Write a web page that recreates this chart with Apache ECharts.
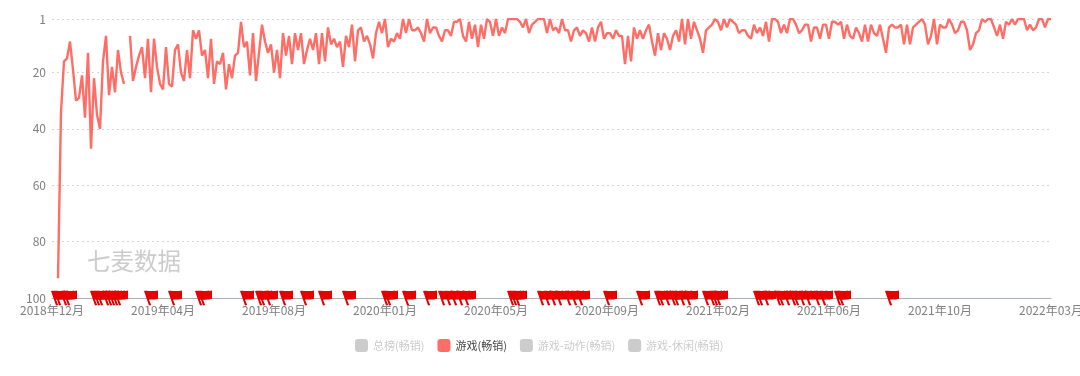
<!DOCTYPE html>
<html>
<head>
<meta charset="utf-8">
<style>
  html, body { margin: 0; padding: 0; background: #fff; }
  #main { width: 1080px; height: 376px; }
</style>
<script src="https://cdn.jsdelivr.net/npm/echarts@6/dist/echarts.min.js"></script>
</head>
<body>
<div id="main"></div>
<script>
var legendNames = ['总榜(畅销)', '游戏(畅销)', '游戏-动作(畅销)', '游戏-休闲(畅销)'];
var monthLabels = ['2018年12月', '2019年04月', '2019年08月', '2020年01月', '2020年05月', '2020年09月', '2021年02月', '2021年06月', '2021年10月', '2022年03月'];
var rankTicks = [1, 20, 40, 60, 80, 100];
var labelStep = 37;

// 游戏(畅销) rank
var gameRank = [
  null, null, 93, 34, 16, 15, 9, 19, 30, 29, 21, 36, 13, 47, 22, 35, 40, 16, 7, 28,
  18, 27, 12, 20, 24, null, 7, 23, 18, 14, 11, 22, 8, 27, 8, 18, 24, 26, 11, 24,
  25, 12, 10, 20, 23, 12, 22, 5, 8, 5, 14, 12, 22, 8, 24, 16, 17, 13, 26, 17,
  22, 14, 13, 2, 11, 9, 21, 6, 23, 13, 3, 9, 13, 10, 20, 12, 22, 6, 14, 7,
  17, 6, 12, 6, 17, 12, 8, 12, 6, 17, 6, 16, 4, 10, 8, 11, 9, 18, 7, 11,
  3, 16, 5, 4, 9, 7, 10, 15, 6, 2, 6, 1, 11, 8, 9, 6, 8, 1, 6, 1,
  5, 5, 4, 6, 9, 1, 6, 4, 4, 7, 9, 5, 5, 7, 2, 2, 1, 7, 9, 2,
  8, 3, 11, 3, 8, 1, 2, 7, 1, 7, 4, 6, 1, 1, 1, 1, 2, 4, 1, 6,
  3, 2, 1, 1, 1, 6, 1, 5, 4, 6, 1, 5, 5, 9, 5, 4, 7, 5, 6, 9,
  4, 9, 4, 2, 8, 6, 6, 8, 5, 7, 7, 17, 7, 16, 4, 8, 5, 8, 5, 3,
  9, 14, 6, 12, 6, 8, 12, 7, 5, 9, 1, 10, 1, 8, 2, 5, 8, 13, 5, 4,
  3, 1, 2, 5, 1, 4, 1, 2, 3, 6, 5, 5, 7, 8, 3, 6, 4, 7, 2, 9,
  1, 1, 2, 6, 3, 6, 1, 1, 3, 6, 5, 3, 3, 9, 4, 4, 8, 3, 3, 8,
  2, 2, 3, 2, 8, 3, 7, 8, 4, 6, 9, 3, 9, 3, 6, 7, 3, 8, 13, 4,
  3, 4, 4, 3, 10, 3, 10, 4, 3, 2, 1, 3, 10, 7, 1, 10, 3, 4, 4, 1,
  3, 6, 5, 2, 2, 5, 12, 10, 6, 5, 1, 2, 1, 1, 4, 7, 3, 8, 2, 3,
  1, 3, 1, 1, 1, 5, 3, 5, 4, 1, 1, 4, 1, 1
];
var flagPoints = [
  2, 3, 5, 6, 15, 16, 17, 19, 20, 21, 22, 23, 33, 41, 50, 51, 65, 70, 71, 73,
  78, 85, 91, 99, 112, 113, 119, 126, 131, 133, 135, 137, 139, 154, 155, 156,
  164, 166, 168, 170, 173, 175, 177, 186, 197, 203, 204, 206, 208, 209, 211, 213,
  219, 221, 222, 223, 236, 237, 239, 243, 244, 246, 248, 249, 251, 253, 256, 258,
  263, 264, 280
];

var categories = gameRank.map(function (v, i) {
  return i % labelStep === 0 ? monthLabels[i / labelStep] : '';
});
var flagData = flagPoints.map(function (i) {
  return [i, 100];
});

var fontName = '"Noto Sans CJK SC", sans-serif';
var chart = echarts.init(document.getElementById('main'), null, { renderer: 'canvas' });

var legendSelected = {};
legendNames.forEach(function (name) {
  legendSelected[name] = name === '游戏(畅销)';
});

var option = {
  animation: false,
  textStyle: { fontFamily: fontName },
  color: ['#ccc', '#ff6e66', '#ccc', '#ccc'],
  legend: {
    data: legendNames,
    selected: legendSelected,
    left: 355,
    top: 339,
    padding: 0,
    itemWidth: 13,
    itemHeight: 13,
    itemGap: 13,
    icon: 'roundRect',
    inactiveColor: '#ccc',
    textStyle: { fontSize: 11, color: '#444', fontFamily: fontName }
  },
  grid: { left: 52, right: 29, top: 19, bottom: 78, outerBoundsMode: 'none' },
  xAxis: {
    type: 'category',
    boundaryGap: false,
    data: categories,
    axisLine: { lineStyle: { color: '#aab1bb' } },
    axisTick: { show: false },
    axisLabel: { interval: labelStep - 1, color: '#7f7f7f', fontSize: 12, margin: 6, hideOverlap: false }
  },
  yAxis: {
    type: 'value',
    inverse: true,
    min: 1,
    max: 100,
    axisLine: { show: false },
    axisTick: { show: false, customValues: rankTicks },
    axisLabel: { color: '#7f7f7f', fontSize: 12, margin: 6, customValues: rankTicks },
    splitLine: { lineStyle: { color: '#d5d5d5', type: [2, 3] } }
  },
  graphic: [{
    type: 'text',
    left: 87,
    top: 249,
    silent: true,
    style: { text: '七麦数据', fill: '#ccc', fontSize: 23.5, fontFamily: fontName }
  }],
  series: [
    { name: legendNames[0], type: 'line', data: [] },
    {
      name: legendNames[1],
      type: 'line',
      data: gameRank,
      symbol: 'none',
      lineStyle: { width: 2.4, color: '#ff6e66' },
      itemStyle: { color: '#ff6e66' },
      connectNulls: false
    },
    { name: legendNames[2], type: 'line', data: [] },
    { name: legendNames[3], type: 'line', data: [] },
    {
      type: 'scatter',
      data: flagData,
      clip: false,
      z: 5,
      symbol: 'path://M0 0.5C4 -0.5 8 1.5 14 0L14 8.5C9.5 10 8 8.5 5 9.6L7.2 15L5 15.4Z',
      symbolSize: [14, 15],
      symbolKeepAspect: false,
      itemStyle: { color: '#e60000', opacity: 1 }
    }
  ]
};

chart.setOption(option);
</script>
</body>
</html>
